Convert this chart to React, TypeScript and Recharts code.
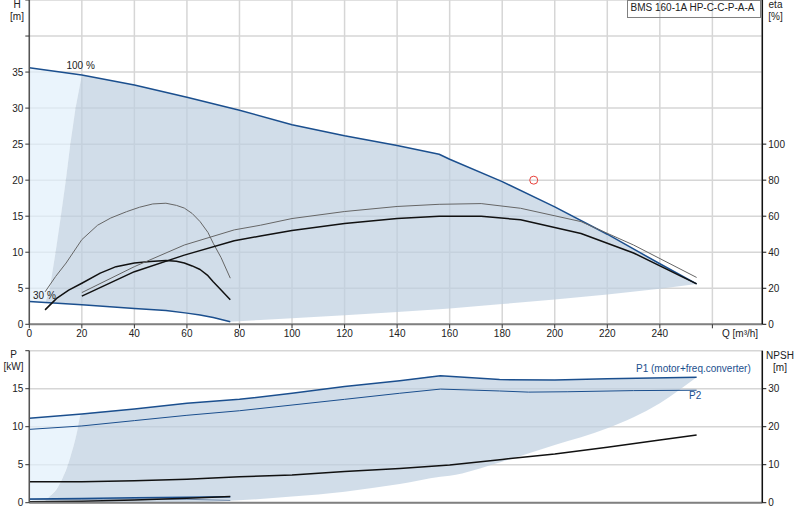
import React from 'react';
import { ComposedChart, Area, Line, Scatter, XAxis, YAxis, CartesianGrid } from 'recharts';

// ---- head (H) vs flow (Q), upper diagram ----
const Q_TICKS = [0, 20, 40, 60, 80, 100, 120, 140, 160, 180, 200, 220, 240, 260];
const H_TICKS = [0, 5, 10, 15, 20, 25, 30, 35, 40, 45];
const ETA_TICKS = [0, 20, 40, 60, 80, 100];

const Q_H100 = [0, 20, 40, 60, 80, 100, 120, 140, 156, 160, 180, 200, 220, 240, 254];
const H100 = [35.6, 34.6, 33.2, 31.5, 29.7, 27.7, 26.15, 24.8, 23.6, 22.9, 19.8, 16.3, 12.5, 8.4, 5.6];

const Q_H30 = [0, 20, 40, 52, 60, 65, 70, 76.5];
const H30 = [3.15, 2.7, 2.2, 1.9, 1.55, 1.3, 0.95, 0.36];

// efficiency curves (eta, %)
const Q_ETA30 = [6, 10, 14, 20, 26, 31, 37, 42, 47, 52, 56, 59, 62, 65, 68, 70, 73, 76.5];
const ETA_P30 = [18, 26.5, 34, 47, 55, 59, 62.5, 65, 66.8, 67.2, 66, 64.5, 61.5, 57, 51, 45, 37, 25.6];
const Q_ETA30T = [6, 10.4, 15, 20, 27, 33, 40, 46, 52, 56, 59, 62, 65, 68, 70, 73, 76.5];
const ETA_T30 = [8, 14.4, 19, 22.8, 28.4, 32, 34, 34.8, 35.4, 35, 34, 32.4, 30.4, 27, 23.6, 19, 13.6];

const Q_ETA100 = [20, 40, 59, 78, 88, 100, 120, 140, 156, 172, 187, 210, 230, 254];
const ETA_P100 = [17.6, 32, 44, 52.4, 55, 58.7, 62.6, 65.4, 66.6, 67, 64.4, 57, 44, 26];
const ETA_T100 = [15.6, 29.2, 38.4, 46.4, 49, 52, 55.9, 58.7, 60, 60, 58, 50.4, 39.6, 22.4];

// shaded operating range
const Q_LIGHT_H = [0, 3, 6.2, 7.8, 10, 12, 13.9, 15.6, 17.6, 20];
const LIGHT_H_LO = [3.15, 3.08, 3.05, 5, 10, 15, 20, 25, 30, 34.6];
const LIGHT_H_HI = [35.6, 35.45, 35.3, 35.2, 35.1, 35.0, 34.9, 34.82, 34.72, 34.6];

const Q_DARK_H = [6.2, 7.8, 10, 12, 13.9, 15.6, 17.6, 20, 40, 52, 60, 65, 70, 76.5, 88, 100, 120, 140, 156, 160, 180, 200, 220, 240, 254];
const DARK_H_LO = [3.05, 3.0, 2.97, 2.93, 2.9, 2.86, 2.8, 2.7, 2.2, 1.9, 1.55, 1.3, 0.95, 0.36, 0.6, 0.85, 1.25, 1.7, 2.1, 2.2, 2.8, 3.45, 4.15, 4.95, 5.6];
const DARK_H_HI = [3.05, 5, 10, 15, 20, 25, 30, 34.6, 33.2, 32.2, 31.5, 31.05, 30.6, 29.95, 28.85, 27.7, 26.15, 24.8, 23.6, 22.9, 19.8, 16.3, 12.5, 8.4, 5.6];

const DUTY = [{ q: 192, v: 20 }];

// ---- power (P) and NPSH, lower diagram ----
const P_TICKS = [0, 5, 10, 15, 20];
const NPSH_TICKS = [0, 10, 20, 30];

const Q_P1 = [0, 20, 40, 60, 80, 100, 120, 141, 156.5, 179, 200, 220, 254];
const P1 = [11.1, 11.67, 12.33, 13.1, 13.6, 14.4, 15.3, 16.05, 16.7, 16.2, 16.15, 16.3, 16.5];
const Q_P2 = [0, 20, 40, 60, 80, 100, 120, 141, 156.5, 179, 190, 205, 230, 254];
const P2 = [9.65, 10.1, 10.8, 11.5, 12.1, 12.85, 13.6, 14.4, 14.95, 14.7, 14.55, 14.6, 14.75, 14.8];
const Q_NPSH = [0, 20, 40, 60, 80, 100, 120, 141, 160, 180, 200, 220, 240, 254];
const NPSH = [5.5, 5.5, 5.8, 6.2, 6.85, 7.3, 8.2, 9.0, 9.9, 11.4, 12.8, 14.6, 16.5, 17.8];

const Q_LOW30 = [0, 20, 40, 60, 76.5];
const P1_30 = [0.5, 0.55, 0.65, 0.72, 0.78];
const P2_30 = [0.42, 0.45, 0.5, 0.45, 0.3];
const NPSH_30 = [0.25, 0.35, 0.7, 1.15, 1.6];

const Q_LIGHT_P = [0, 3, 5.3, 8, 11, 13, 14.9, 16.2, 17.4, 18.4, 19.3, 20];
const LIGHT_P_LO = [0, 0, 0, 0.9, 2.1, 3.5, 5.2, 6.7, 8.2, 9.7, 11.3, 11.67];
const LIGHT_P_HI = [11.1, 11.18, 11.25, 11.34, 11.42, 11.48, 11.53, 11.57, 11.6, 11.63, 11.65, 11.67];

const Q_DARK_P = [5.3, 8, 11, 13, 14.9, 16.2, 17.4, 18.4, 19.3, 20, 40, 60, 76.5, 100, 120, 141, 156.5, 160, 179, 200, 220, 240, 254];
const DARK_P_LO = [0, 0, 0, 0, 0, 0, 0, 0, 0, 0, 0, 0, 0.25, 0.8, 1.45, 2.45, 3.4, 3.55, 5.3, 7.6, 9.8, 13.1, 16.5];
const DARK_P_HI = [0, 0.9, 2.1, 3.5, 5.2, 6.7, 8.2, 9.7, 11.3, 11.67, 12.33, 13.1, 13.5, 14.4, 15.3, 16.05, 16.7, 16.6, 16.2, 16.15, 16.3, 16.4, 16.5];

const pts = (qs: number[], vs: number[]) => qs.map((q, i) => ({ q, v: vs[i] }));
const range = (qs: number[], lo: number[], hi: number[]) => qs.map((q, i) => ({ q, r: [lo[i], hi[i]] }));

const FONT = '"Liberation Sans", Arial, sans-serif';
const BLUE = '#1b4f8e';
const TEXT = '#222';
const GRID = '#d6d6d6';
const LIGHT_FILL = '#e1effb';
const DARK_FILL = '#bdcee0';
const TICK = { fill: TEXT, fontSize: 10, fontFamily: FONT };

const label = (left: number, top: number, lines: string[], extra: React.CSSProperties = {}) => (
  <div style={{ position: 'absolute', left, top, fontSize: 10, lineHeight: '12px', color: TEXT, whiteSpace: 'nowrap', ...extra }}>
    {lines.map(l => <div key={l}>{l}</div>)}
  </div>
);

export default function App() {
  const line = (id: string, data: any[], stroke: string, w: number, yAxisId: string) => (
    <Line key={id} data={data} dataKey="v" yAxisId={yAxisId} type="linear" stroke={stroke} strokeWidth={w}
      strokeLinejoin="round" dot={false} activeDot={false} isAnimationActive={false} />
  );

  return (
    <div style={{ position: 'absolute', left: 0, top: 0, width: 800, height: 520, background: '#fff', fontFamily: FONT }}>
      {/* upper diagram: H and eta */}
      <div style={{ position: 'absolute', left: 0, top: 0 }}>
        <ComposedChart width={800} height={346} margin={{ top: 0, right: 0, bottom: 0, left: 0 }}>
          <CartesianGrid yAxisId="h" stroke={GRID} strokeWidth={1.5} />
          <XAxis dataKey="q" type="number" domain={[0, 279]} ticks={Q_TICKS} interval={0} height={21.7}
            tickFormatter={(v: number) => (v === 260 ? '' : String(v))} tick={TICK} tickSize={4}
            axisLine={{ stroke: '#808080', strokeWidth: 2 }} tickLine={{ stroke: '#333' }} />
          <YAxis yAxisId="h" domain={[0, 45]} ticks={H_TICKS} interval={0} width={29.3} tick={TICK} tickSize={4}
            tickFormatter={(v: number) => (v > 35 ? '' : String(v))}
            axisLine={{ stroke: '#555', strokeWidth: 1.5 }} tickLine={{ stroke: '#333' }} />
          <YAxis yAxisId="eta" orientation="right" domain={[0, 180]} ticks={ETA_TICKS} interval={0} width={37.7}
            tick={TICK} tickSize={4} axisLine={{ stroke: '#111', strokeWidth: 1.5 }} tickLine={{ stroke: '#111' }} />
          <Area yAxisId="h" data={range(Q_LIGHT_H, LIGHT_H_LO, LIGHT_H_HI)} dataKey="r" type="linear"
            stroke="none" fill={LIGHT_FILL} fillOpacity={0.7} isAnimationActive={false} activeDot={false} />
          <Area yAxisId="h" data={range(Q_DARK_H, DARK_H_LO, DARK_H_HI)} dataKey="r" type="linear"
            stroke="none" fill={DARK_FILL} fillOpacity={0.7} isAnimationActive={false} activeDot={false} />
          {line('h100', pts(Q_H100, H100), BLUE, 1.5, 'h')}
          {line('h30', pts(Q_H30, H30), BLUE, 1.5, 'h')}
          {line('ep30', pts(Q_ETA30, ETA_P30), '#666', 1, 'eta')}
          {line('et30', pts(Q_ETA30T, ETA_T30), '#111', 1.5, 'eta')}
          {line('ep100', pts(Q_ETA100, ETA_P100), '#666', 1, 'eta')}
          {line('et100', pts(Q_ETA100, ETA_T100), '#111', 1.5, 'eta')}
          <Scatter yAxisId="h" data={DUTY} dataKey="v" isAnimationActive={false}
            shape={(p: any) => <circle cx={p.cx} cy={p.cy} r={4} fill="none" stroke="#e8403a" strokeWidth={1} />} />
        </ComposedChart>
      </div>

      {/* lower diagram: P and NPSH */}
      <div style={{ position: 'absolute', left: 0, top: 340 }}>
        <ComposedChart width={800} height={175} margin={{ top: 10.7, right: 0, bottom: 0, left: 0 }}>
          <CartesianGrid yAxisId="p" stroke={GRID} strokeWidth={1.5} />
          <XAxis dataKey="q" type="number" domain={[0, 279]} ticks={Q_TICKS} interval={0} height={12.3}
            tick={false} tickLine={false} axisLine={{ stroke: '#808080', strokeWidth: 2 }} />
          <YAxis yAxisId="p" domain={[0, 20]} ticks={P_TICKS} interval={0} width={29.3} tick={TICK} tickSize={4}
            tickFormatter={(v: number) => (v > 15 ? '' : String(v))}
            axisLine={{ stroke: '#555', strokeWidth: 1.5 }} tickLine={{ stroke: '#333' }} />
          <YAxis yAxisId="npsh" orientation="right" domain={[0, 40]} ticks={NPSH_TICKS} interval={0} width={37.7}
            tick={TICK} tickSize={4} axisLine={{ stroke: '#111', strokeWidth: 1.5 }} tickLine={{ stroke: '#111' }} />
          <Area yAxisId="p" data={range(Q_LIGHT_P, LIGHT_P_LO, LIGHT_P_HI)} dataKey="r" type="linear"
            stroke="none" fill={LIGHT_FILL} fillOpacity={0.7} isAnimationActive={false} activeDot={false} />
          <Area yAxisId="p" data={range(Q_DARK_P, DARK_P_LO, DARK_P_HI)} dataKey="r" type="monotone"
            stroke="none" fill={DARK_FILL} fillOpacity={0.7} isAnimationActive={false} activeDot={false} />
          {line('p1', pts(Q_P1, P1), BLUE, 1.5, 'p')}
          {line('p2', pts(Q_P2, P2), BLUE, 1, 'p')}
          {line('npsh', pts(Q_NPSH, NPSH), '#111', 1.5, 'npsh')}
          {line('p2_30', pts(Q_LOW30, P2_30), '#7088a8', 1, 'p')}
          {line('p1_30', pts(Q_LOW30, P1_30), BLUE, 1.5, 'p')}
          {line('npsh30', pts(Q_LOW30, NPSH_30), '#111', 1.5, 'npsh')}
        </ComposedChart>
      </div>

      {/* axis titles and curve labels */}
      {label(0, -0.8, ['H', '[m]'], { width: 34, textAlign: 'center' })}
      {label(763, -0.8, ['eta', '[%]'], { width: 25, textAlign: 'center' })}
      {label(722, 328.2, ['Q [m³/h]'])}
      {label(66.5, 59.6, ['100 %'])}
      {label(33, 290.2, ['30 %'])}
      {label(0, 349, ['P', '[kW]'], { width: 27, textAlign: 'center' })}
      {label(764, 349.7, ['NPSH', '[m]'], { width: 32, textAlign: 'center' })}
      {label(636, 363, ['P1 (motor+freq.converter)'], { color: BLUE })}
      {label(689, 389.7, ['P2'], { color: BLUE })}
      <div style={{ position: 'absolute', left: 626.5, top: -0.5, width: 134, height: 18.5, border: '1px solid #808080',
        fontSize: 10, lineHeight: '12px', color: TEXT, paddingLeft: 3, boxSizing: 'border-box', paddingTop: 1.5, whiteSpace: 'nowrap' }}>
        BMS 160-1A HP-C-C-P-A-A
      </div>
    </div>
  );
}
